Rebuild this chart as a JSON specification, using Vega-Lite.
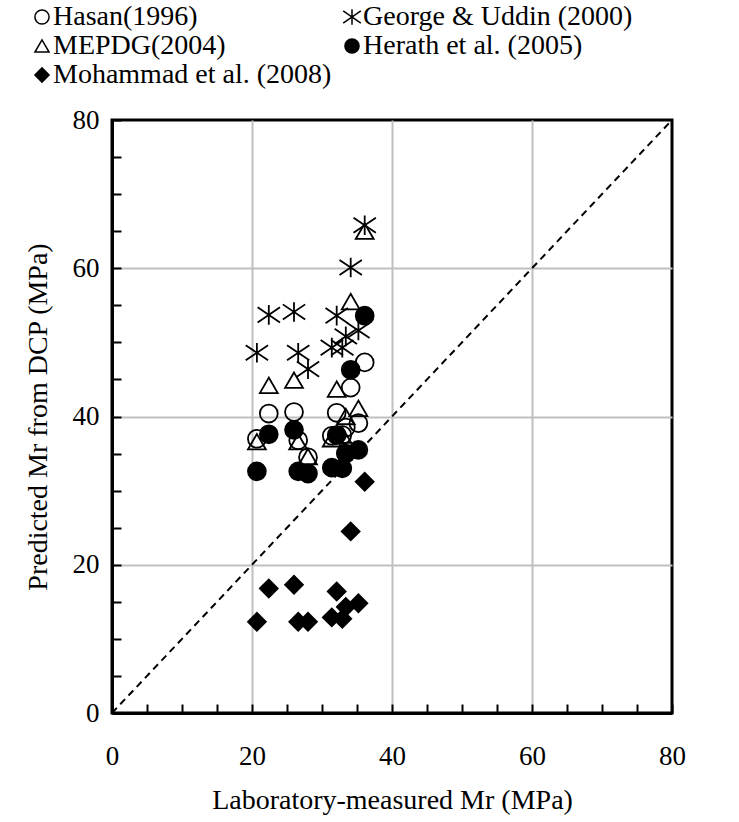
{
  "$schema": "https://vega.github.io/schema/vega-lite/v6.json",
  "autosize": {"type": "none"},
  "padding": {"left": 112, "top": 120, "right": 67, "bottom": 109},
  "width": 560,
  "height": 593,
  "background": "white",
  "config": {
    "font": "Liberation Serif",
    "view": {"stroke": "black", "strokeWidth": 3},
    "axis": {
      "domainColor": "black",
      "domainWidth": 3,
      "tickColor": "black",
      "tickWidth": 2,
      "labelFont": "Liberation Serif",
      "labelFontSize": 27,
      "labelColor": "black",
      "titleFont": "Liberation Serif",
      "titleFontSize": 28,
      "titleFontWeight": "normal",
      "titleColor": "black",
      "gridColor": "#c0c0c0",
      "gridWidth": 2
    },
    "legend": {
      "labelFont": "Liberation Serif",
      "labelFontSize": 28,
      "labelColor": "black",
      "labelOffset": -3,
      "labelLimit": 400,
      "symbolSize": 200,
      "symbolStrokeWidth": 1.5,
      "padding": 0
    }
  },
  "datasets": {
    "points": [
      {"study": "Hasan(1996)", "lab": 20.7, "pred": 37.0},
      {"study": "Hasan(1996)", "lab": 22.4, "pred": 40.4},
      {"study": "Hasan(1996)", "lab": 26.0, "pred": 40.6},
      {"study": "Hasan(1996)", "lab": 26.6, "pred": 36.8},
      {"study": "Hasan(1996)", "lab": 28.0, "pred": 34.5},
      {"study": "Hasan(1996)", "lab": 31.4, "pred": 37.4},
      {"study": "Hasan(1996)", "lab": 32.1, "pred": 40.5},
      {"study": "Hasan(1996)", "lab": 32.9, "pred": 37.5},
      {"study": "Hasan(1996)", "lab": 33.4, "pred": 38.5},
      {"study": "Hasan(1996)", "lab": 34.1, "pred": 43.9},
      {"study": "Hasan(1996)", "lab": 35.2, "pred": 39.1},
      {"study": "Hasan(1996)", "lab": 36.1, "pred": 47.3},
      {"study": "George & Uddin (2000)", "lab": 20.7, "pred": 48.6},
      {"study": "George & Uddin (2000)", "lab": 22.4, "pred": 53.7},
      {"study": "George & Uddin (2000)", "lab": 26.0, "pred": 54.1},
      {"study": "George & Uddin (2000)", "lab": 26.6, "pred": 48.6},
      {"study": "George & Uddin (2000)", "lab": 28.0, "pred": 46.4},
      {"study": "George & Uddin (2000)", "lab": 31.4, "pred": 49.3},
      {"study": "George & Uddin (2000)", "lab": 32.1, "pred": 53.6},
      {"study": "George & Uddin (2000)", "lab": 32.9, "pred": 49.3},
      {"study": "George & Uddin (2000)", "lab": 33.4, "pred": 50.8},
      {"study": "George & Uddin (2000)", "lab": 34.1, "pred": 60.1},
      {"study": "George & Uddin (2000)", "lab": 35.2, "pred": 51.6},
      {"study": "George & Uddin (2000)", "lab": 36.1, "pred": 65.8},
      {"study": "MEPDG(2004)", "lab": 20.7, "pred": 36.6},
      {"study": "MEPDG(2004)", "lab": 22.4, "pred": 44.2},
      {"study": "MEPDG(2004)", "lab": 26.0, "pred": 44.9},
      {"study": "MEPDG(2004)", "lab": 26.6, "pred": 36.6},
      {"study": "MEPDG(2004)", "lab": 28.0, "pred": 34.6},
      {"study": "MEPDG(2004)", "lab": 31.4, "pred": 37.0},
      {"study": "MEPDG(2004)", "lab": 32.1, "pred": 43.7},
      {"study": "MEPDG(2004)", "lab": 32.9, "pred": 37.5},
      {"study": "MEPDG(2004)", "lab": 33.4, "pred": 40.0},
      {"study": "MEPDG(2004)", "lab": 34.1, "pred": 55.5},
      {"study": "MEPDG(2004)", "lab": 35.2, "pred": 41.1},
      {"study": "MEPDG(2004)", "lab": 36.1, "pred": 65.0},
      {"study": "Herath et al. (2005)", "lab": 20.7, "pred": 32.6},
      {"study": "Herath et al. (2005)", "lab": 22.4, "pred": 37.6},
      {"study": "Herath et al. (2005)", "lab": 26.0, "pred": 38.2},
      {"study": "Herath et al. (2005)", "lab": 26.6, "pred": 32.6},
      {"study": "Herath et al. (2005)", "lab": 28.0, "pred": 32.3},
      {"study": "Herath et al. (2005)", "lab": 31.4, "pred": 33.1},
      {"study": "Herath et al. (2005)", "lab": 32.1, "pred": 37.5},
      {"study": "Herath et al. (2005)", "lab": 32.9, "pred": 33.0},
      {"study": "Herath et al. (2005)", "lab": 33.4, "pred": 35.0},
      {"study": "Herath et al. (2005)", "lab": 34.1, "pred": 46.3},
      {"study": "Herath et al. (2005)", "lab": 35.2, "pred": 35.5},
      {"study": "Herath et al. (2005)", "lab": 36.1, "pred": 53.6},
      {"study": "Mohammad et al. (2008)", "lab": 20.7, "pred": 12.3},
      {"study": "Mohammad et al. (2008)", "lab": 22.4, "pred": 16.8},
      {"study": "Mohammad et al. (2008)", "lab": 26.0, "pred": 17.3},
      {"study": "Mohammad et al. (2008)", "lab": 26.6, "pred": 12.3},
      {"study": "Mohammad et al. (2008)", "lab": 28.0, "pred": 12.3},
      {"study": "Mohammad et al. (2008)", "lab": 31.4, "pred": 12.9},
      {"study": "Mohammad et al. (2008)", "lab": 32.1, "pred": 16.4},
      {"study": "Mohammad et al. (2008)", "lab": 32.9, "pred": 12.7},
      {"study": "Mohammad et al. (2008)", "lab": 33.4, "pred": 14.3},
      {"study": "Mohammad et al. (2008)", "lab": 34.1, "pred": 24.5},
      {"study": "Mohammad et al. (2008)", "lab": 35.2, "pred": 14.8},
      {"study": "Mohammad et al. (2008)", "lab": 36.1, "pred": 31.2}
    ],
    "equality": [
      {"lab": 0, "pred": 0},
      {"lab": 80, "pred": 80}
    ]
  },
  "encoding": {
    "x": {
      "field": "lab",
      "type": "quantitative",
      "scale": {"domain": [0, 80], "nice": false, "zero": true},
      "axis": {
        "title": "Laboratory-measured Mr (MPa)",
        "titlePadding": 17,
        "values": [0, 5, 10, 15, 20, 25, 30, 35, 40, 45, 50, 55, 60, 65, 70, 75, 80],
        "labelExpr": "datum.value % 20 === 0 ? datum.label : ''",
        "labelPadding": 39,
        "labelOverlap": false,
        "labelFlush": false,
        "tickSize": -9,
        "grid": true,
        "gridOpacity": {"condition": {"test": "datum.value % 20 === 0 && datum.value > 0 && datum.value < 80", "value": 1}, "value": 0}
      }
    },
    "y": {
      "field": "pred",
      "type": "quantitative",
      "scale": {"domain": [0, 80], "nice": false, "zero": true},
      "axis": {
        "title": "Predicted Mr from DCP (MPa)",
        "titlePadding": 20,
        "values": [0, 5, 10, 15, 20, 25, 30, 35, 40, 45, 50, 55, 60, 65, 70, 75, 80],
        "labelExpr": "datum.value % 20 === 0 ? datum.label : ''",
        "labelPadding": 22,
        "labelOverlap": false,
        "labelFlush": false,
        "tickSize": -9,
        "grid": true,
        "gridOpacity": {"condition": {"test": "datum.value % 20 === 0 && datum.value > 0 && datum.value < 80", "value": 1}, "value": 0}
      }
    }
  },
  "layer": [
    {
      "data": {"name": "equality"},
      "mark": {"type": "line", "color": "black", "strokeWidth": 2, "strokeDash": [7, 5]},
      "encoding": {}
    },
    {
      "data": {"name": "points"},
      "mark": {"type": "point", "filled": true, "strokeWidth": 1.8, "opacity": 1, "size": 320},
      "encoding": {
        "shape": {
          "field": "study",
          "type": "nominal",
          "scale": {
            "domain": ["Hasan(1996)", "George & Uddin (2000)", "MEPDG(2004)", "Herath et al. (2005)", "Mohammad et al. (2008)"],
            "range": ["circle", "M0,-1.1L0,1.1M-1.25,-0.85L1.25,0.85M-1.25,0.85L1.25,-0.85", "triangle-up", "circle", "diamond"]
          },
          "legend": {
            "title": null,
            "orient": "none",
            "legendX": -84,
            "legendY": -117,
            "columns": 2,
            "direction": "horizontal",
            "columnPadding": 6,
            "rowPadding": 1,
            "labelFont": "Liberation Serif",
            "labelFontSize": 28
          }
        },
        "fill": {
          "field": "study",
          "type": "nominal",
          "scale": {
            "domain": ["Hasan(1996)", "George & Uddin (2000)", "MEPDG(2004)", "Herath et al. (2005)", "Mohammad et al. (2008)"],
            "range": ["transparent", "transparent", "transparent", "black", "black"]
          },
          "legend": {
            "title": null,
            "orient": "none",
            "legendX": -84,
            "legendY": -117,
            "columns": 2,
            "direction": "horizontal",
            "columnPadding": 6,
            "rowPadding": 1,
            "labelFont": "Liberation Serif",
            "labelFontSize": 28
          }
        },
        "stroke": {
          "field": "study",
          "type": "nominal",
          "scale": {
            "domain": ["Hasan(1996)", "George & Uddin (2000)", "MEPDG(2004)", "Herath et al. (2005)", "Mohammad et al. (2008)"],
            "range": ["black", "black", "black", "black", "black"]
          },
          "legend": {
            "title": null,
            "orient": "none",
            "legendX": -84,
            "legendY": -117,
            "columns": 2,
            "direction": "horizontal",
            "columnPadding": 6,
            "rowPadding": 1,
            "labelFont": "Liberation Serif",
            "labelFontSize": 28
          }
        }
      }
    }
  ]
}
